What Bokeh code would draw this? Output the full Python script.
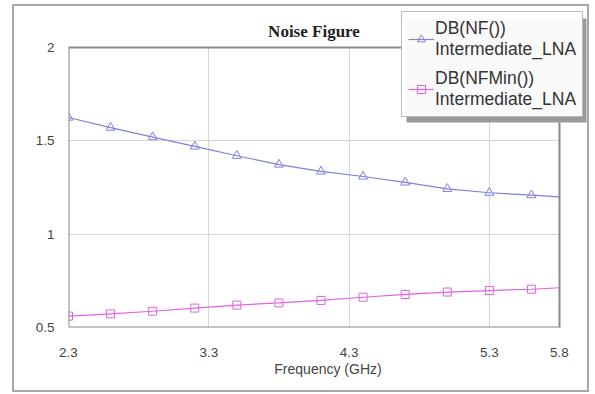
from bokeh.plotting import figure
from bokeh.models import FixedTicker, Legend, LegendItem, Range1d, BoxAnnotation, Label
from bokeh.embed import file_html
from bokeh.resources import INLINE

# ---- data ----
freq = [2.3, 2.6, 2.9, 3.2, 3.5, 3.8, 4.1, 4.4, 4.7, 5.0, 5.3, 5.6, 5.8]
nf = [1.625, 1.571, 1.52, 1.47, 1.42, 1.373, 1.336, 1.309, 1.277, 1.243, 1.222, 1.209, 1.20]
nfmin = [0.561, 0.573, 0.587, 0.604, 0.62, 0.632, 0.645, 0.662, 0.677, 0.69, 0.698, 0.705, 0.713]
x_ticks = [2.3, 3.3, 4.3, 5.3, 5.8]
y_ticks = [0.5, 1, 1.5, 2]
title_text = "Noise Figure"
x_label = "Frequency (GHz)"
names = ["DB(NF())\nIntermediate_LNA", "DB(NFMin())\nIntermediate_LNA"]

nf_color = "#8080e0"
nfmin_color = "#e064e0"
border_color = "#8a8a8a"
grid_color = "#d6d6d6"

# ---- layout (pixels) ----
W, H = 577, 388
left_pad, bottom_pad, right_pad, top_pad = 54, 67, 4, 0
plot_w, plot_h = 491, 280                     # visible plotting box size
frame_w = W - left_pad - right_pad
frame_h = H - top_pad - bottom_pad
x0, x1 = x_ticks[0], x_ticks[-1]
y0, y1 = y_ticks[0], y_ticks[-1]
x_end = x0 + (x1 - x0) * frame_w / plot_w
y_end = y0 + (y1 - y0) * frame_h / plot_h

p = figure(width=W, height=H, output_backend="svg", toolbar_location=None,
           x_range=Range1d(x0, x_end), y_range=Range1d(y0, y_end),
           min_border_left=left_pad, min_border_right=right_pad,
           min_border_top=top_pad, min_border_bottom=bottom_pad)

p.styles = {"border": "2px solid #a8a8a8", "box-sizing": "border-box",
            "margin-left": "12px", "margin-top": "4px"}

p.outline_line_color = None

for ax in (p.xaxis[0], p.yaxis[0]):
    ax.axis_line_color = None
    ax.major_tick_line_color = None
    ax.minor_tick_line_color = None
    ax.major_label_text_font = "Liberation Sans"
    ax.major_label_text_font_size = "13.5px"
    ax.major_label_text_color = "#444444"

p.xaxis.bounds = (x0, x1)
p.yaxis.bounds = (y0, y1)
p.xaxis.ticker = FixedTicker(ticks=x_ticks)
p.yaxis.ticker = FixedTicker(ticks=y_ticks)
p.xgrid.ticker = FixedTicker(ticks=x_ticks)
p.ygrid.ticker = FixedTicker(ticks=y_ticks)
p.xaxis.major_label_standoff = 14
p.yaxis.major_label_standoff = 8
p.xaxis.major_label_overrides = {t: str(t) for t in x_ticks}
p.yaxis.major_label_overrides = {t: str(t) for t in y_ticks}
p.xaxis.axis_label = x_label
p.xaxis.axis_label_text_font = "Liberation Sans"
p.xaxis.axis_label_text_font_size = "14px"
p.xaxis.axis_label_text_font_style = "normal"
p.xaxis.axis_label_text_color = "#444444"
p.xaxis.axis_label_standoff = 1

p.xgrid.grid_line_color = grid_color
p.ygrid.grid_line_color = grid_color

l1 = p.line(freq, nf, line_color=nf_color, line_width=1.2)
m1 = p.scatter(freq[:-1], nf[:-1], marker="triangle", size=9, line_color=nf_color,
               fill_color=None, line_width=1)
l2 = p.line(freq, nfmin, line_color=nfmin_color, line_width=1.2)
m2 = p.scatter(freq[:-1], nfmin[:-1], marker="square", size=8, line_color=nfmin_color,
               fill_color=None, line_width=1)

# hide grid lines outside the plotting box
p.add_layout(BoxAnnotation(bottom=y1, fill_color="white", fill_alpha=1.0, line_color=None,
                           level="underlay"))
p.add_layout(BoxAnnotation(left=x1, fill_color="white", fill_alpha=1.0, line_color=None,
                           level="underlay"))
# plotting-box outline
p.add_layout(BoxAnnotation(left=x0, right=x1, bottom=y0, top=y1, fill_alpha=0.0,
                           line_color=border_color, line_width=2, line_alpha=1.0))

# title
p.add_layout(Label(x=(x0 + x1) / 2, y=y1, y_offset=16, text=title_text,
                   text_font="Liberation Serif", text_font_style="bold",
                   text_font_size="17px", text_color="#222222",
                   text_align="center", text_baseline="middle"))

# legend shadow + legend
p.add_layout(BoxAnnotation(left=390, right=570, top=10, bottom=114,
                           left_units="canvas", right_units="canvas",
                           top_units="canvas", bottom_units="canvas",
                           fill_color="#9a9a9a", fill_alpha=1.0, line_color=None,
                           level="overlay"))

legend = Legend(items=[LegendItem(label=names[0], renderers=[l1, m1]),
                       LegendItem(label=names[1], renderers=[l2, m2])],
                location=(333, 210), level="overlay")
legend.label_text_font = "Liberation Sans"
legend.label_text_font_size = "17.5px"
legend.label_text_color = "#333333"
legend.border_line_color = "#777777"
legend.border_line_width = 1
legend.glyph_width = 26
legend.label_standoff = 1
legend.spacing = 8
legend.padding = 6
legend.margin = 0
p.add_layout(legend, "center")

open("out.html", "w").write(file_html(p, INLINE))
